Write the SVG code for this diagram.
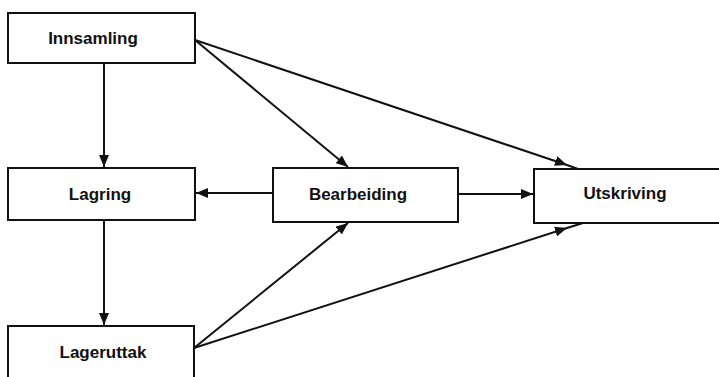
<svg xmlns="http://www.w3.org/2000/svg" width="719" height="377" viewBox="0 0 719 377">
<style>
.box{fill:#fff;stroke:#111;stroke-width:2}
.lbl{font-family:"Liberation Sans",Arial,sans-serif;font-weight:bold;font-size:17px;fill:#111;text-anchor:middle}
.con{fill:none;stroke:#111;stroke-width:2}
</style>
<defs>
<marker id="ah" viewBox="0 0 12 10" refX="12" refY="5" markerWidth="12" markerHeight="10" markerUnits="userSpaceOnUse" orient="auto">
<path d="M0,0 L12,5 L0,10 Z" fill="#111"/>
</marker>
</defs>
<rect width="719" height="377" fill="#fff"/>
<g id="connectors">
<line class="con" x1="104" y1="63" x2="104" y2="167" marker-end="url(#ah)"/>
<line class="con" x1="195" y1="40" x2="348" y2="167" marker-end="url(#ah)"/>
<path class="con" d="M195,40 L567,165 L578,169" marker-mid="url(#ah)"/>
<line class="con" x1="273" y1="193" x2="196" y2="193" marker-end="url(#ah)"/>
<line class="con" x1="458" y1="194" x2="533" y2="194" marker-end="url(#ah)"/>
<line class="con" x1="104" y1="220" x2="104" y2="325" marker-end="url(#ah)"/>
<line class="con" x1="194" y1="348" x2="348" y2="223" marker-end="url(#ah)"/>
<path class="con" d="M194,348 L567,228 L583,223" marker-mid="url(#ah)"/>
</g>
<g id="innsamling">
<rect class="box" x="8" y="13" width="187" height="50"/>
<text class="lbl" x="93" y="44">Innsamling</text>
</g>
<g id="lagring">
<rect class="box" x="8" y="168" width="187" height="52"/>
<text class="lbl" x="100" y="200">Lagring</text>
</g>
<g id="lageruttak">
<rect class="box" x="8" y="326" width="186" height="60"/>
<text class="lbl" x="103" y="358">Lageruttak</text>
</g>
<g id="bearbeiding">
<rect class="box" x="273" y="168" width="185" height="54"/>
<text class="lbl" x="358" y="200">Bearbeiding</text>
</g>
<g id="utskriving">
<rect class="box" x="534" y="169" width="200" height="54"/>
<text class="lbl" x="625" y="199">Utskriving</text>
</g>
</svg>
